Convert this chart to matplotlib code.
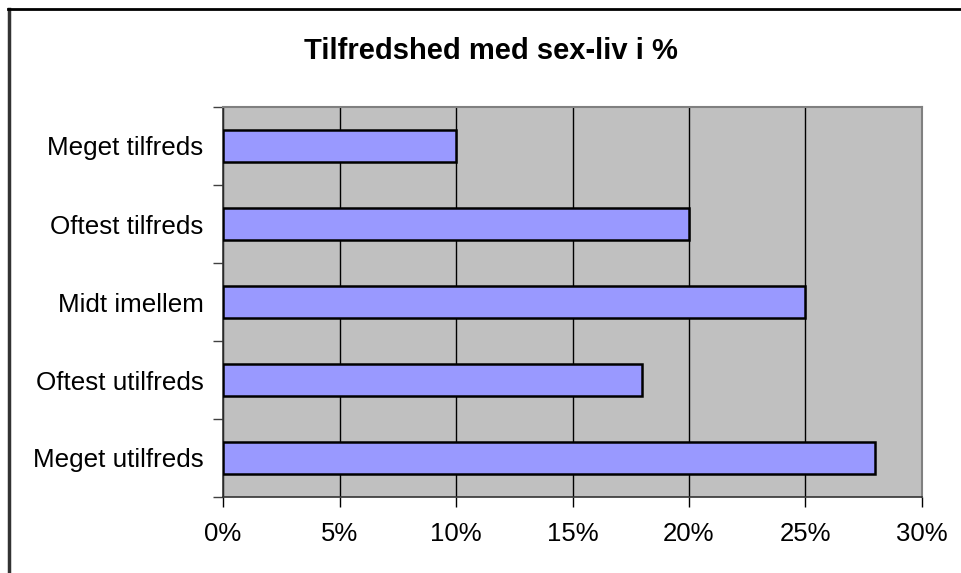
import matplotlib

matplotlib.use("Agg")
import matplotlib.pyplot as plt
from matplotlib.lines import Line2D
from matplotlib.ticker import FixedLocator, PercentFormatter

# Data (top to bottom as shown)
categories = ["Meget tilfreds", "Oftest tilfreds", "Midt imellem", "Oftest utilfreds", "Meget utilfreds"]
shares = [10, 20, 25, 18, 28]
x_ticks = [0, 5, 10, 15, 20, 25, 30]
title = "Tilfredshed med sex-liv i %"

plt.rcParams["font.family"] = ["Liberation Sans", "DejaVu Sans"]

fig = plt.figure(figsize=(9.62, 5.73), dpi=100)
ax = fig.add_axes([223 / 962, 76 / 573, 699 / 962, 390 / 573])
ax.set_facecolor("#C0C0C0")

pos = list(range(len(categories)))[::-1]
ax.barh(pos, shares, height=0.4, color="#9999FF", edgecolor="black", linewidth=1.8, zorder=3)

ax.set_xlim(0, 30)
ax.set_ylim(-0.5, len(categories) - 0.5)
ax.set_xticks(x_ticks)
ax.xaxis.set_major_formatter(PercentFormatter(decimals=0))
ax.grid(axis="x", color="black", linewidth=1.0, zorder=1)

ax.set_yticks(pos)
ax.set_yticklabels(categories)
ax.yaxis.set_minor_locator(FixedLocator([i - 0.5 for i in range(len(categories) + 1)]))
ax.tick_params(axis="y", which="major", length=0, pad=14, labelsize=18.7)
ax.tick_params(axis="y", which="minor", length=7, width=1, color="#404040")
ax.tick_params(axis="x", length=7, width=1, pad=11, labelsize=18.5)

for side in ("top", "right"):
    ax.spines[side].set_color("#808080")
    ax.spines[side].set_linewidth(1.5)
for side in ("left", "bottom"):
    ax.spines[side].set_color("#333333")
    ax.spines[side].set_linewidth(1.2)

fig.text(491 / 962, 1 - 51 / 573, title, ha="center", va="center", fontsize=21, fontweight="bold")

# outer chart frame (only top and left visible in the crop)
fig.add_artist(Line2D([8.5 / 962, 8.5 / 962], [0, 1 - 9 / 573], transform=fig.transFigure, color="#333333", linewidth=2.5))
fig.add_artist(Line2D([8 / 962, 1], [1 - 9 / 573, 1 - 9 / 573], transform=fig.transFigure, color="black", linewidth=2))

fig.savefig("out.png", dpi=100)
